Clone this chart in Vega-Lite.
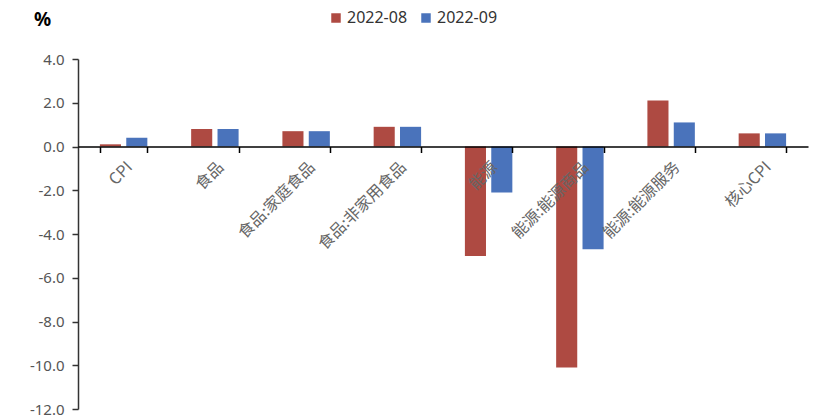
{
  "$schema": "https://vega.github.io/schema/vega-lite/v6.json",
  "width": 730,
  "height": 350,
  "autosize": "none",
  "padding": {"left": 78, "top": 59, "right": 14, "bottom": 9},
  "background": "white",
  "config": {"view": {"stroke": null}, "font": "Noto Sans"},
  "data": {
    "values": [
      {"category": "CPI", "period": "2022-08", "value": 0.1},
      {"category": "CPI", "period": "2022-09", "value": 0.4},
      {"category": "食品", "period": "2022-08", "value": 0.8},
      {"category": "食品", "period": "2022-09", "value": 0.8},
      {"category": "食品:家庭食品", "period": "2022-08", "value": 0.7},
      {"category": "食品:家庭食品", "period": "2022-09", "value": 0.7},
      {"category": "食品:非家用食品", "period": "2022-08", "value": 0.9},
      {"category": "食品:非家用食品", "period": "2022-09", "value": 0.9},
      {"category": "能源", "period": "2022-08", "value": -5.0},
      {"category": "能源", "period": "2022-09", "value": -2.1},
      {"category": "能源:能源商品", "period": "2022-08", "value": -10.1},
      {"category": "能源:能源商品", "period": "2022-09", "value": -4.7},
      {"category": "能源:能源服务", "period": "2022-08", "value": 2.1},
      {"category": "能源:能源服务", "period": "2022-09", "value": 1.1},
      {"category": "核心CPI", "period": "2022-08", "value": 0.6},
      {"category": "核心CPI", "period": "2022-09", "value": 0.6}
    ]
  },
  "mark": {"type": "bar"},
  "encoding": {
    "x": {
      "field": "category",
      "type": "nominal",
      "sort": null,
      "scale": {"paddingInner": 0.48, "paddingOuter": 0.24},
      "axis": {
        "title": null,
        "offset": -262.5,
        "zindex": 1,
        "tickBand": "extent",
        "domainColor": "#000000",
        "domainWidth": 1.5,
        "tickColor": "#000000",
        "tickWidth": 1.5,
        "tickSize": 6,
        "labelAngle": -45,
        "labelFont": "Noto Sans CJK SC",
        "labelFontSize": 16,
        "labelColor": "#666666",
        "labelPadding": 6
      }
    },
    "xOffset": {
      "field": "period",
      "type": "nominal",
      "scale": {"paddingInner": 0.2, "paddingOuter": 0}
    },
    "y": {
      "field": "value",
      "type": "quantitative",
      "scale": {"domain": [-12, 4], "nice": false},
      "axis": {
        "title": "%",
        "titleAngle": 0,
        "titleX": -36,
        "titleY": -40,
        "titleAlign": "center",
        "titleBaseline": "middle",
        "titleFontSize": 19,
        "titleFontWeight": "bold",
        "titleColor": "#000000",
        "values": [-12, -10, -8, -6, -4, -2, 0, 2, 4],
        "labelExpr": "replace(format(datum.value, '.1f'), '−', '-')",
        "grid": false,
        "domainColor": "#333333",
        "domainWidth": 1.5,
        "tickColor": "#333333",
        "tickWidth": 1.5,
        "tickSize": 6,
        "labelFontSize": 15,
        "labelColor": "#555555",
        "labelPadding": 8
      }
    },
    "color": {
      "field": "period",
      "type": "nominal",
      "scale": {"domain": ["2022-08", "2022-09"], "range": ["#AE4A42", "#4A73BB"]},
      "legend": {
        "title": null,
        "orient": "none",
        "direction": "horizontal",
        "legendX": 250,
        "legendY": -49,
        "symbolType": "square",
        "symbolSize": 90,
        "symbolStrokeWidth": 0,
        "labelFontSize": 16,
        "labelColor": "#333333",
        "columnPadding": 10,
        "labelOffset": 3
      }
    }
  }
}
